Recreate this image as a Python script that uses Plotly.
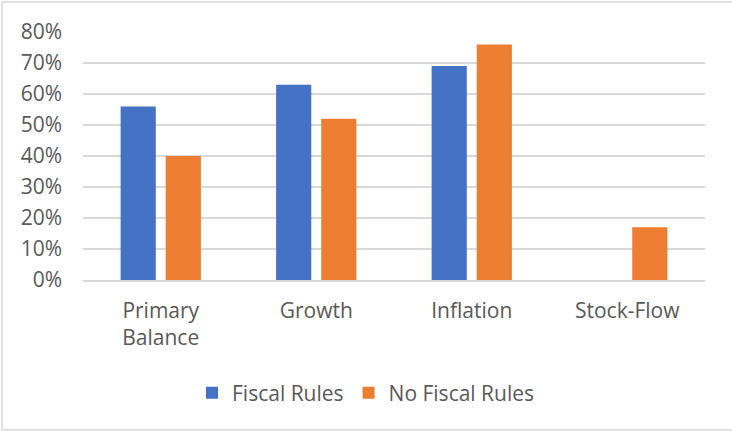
import plotly.graph_objects as go

categories = ["Primary<br>Balance", "Growth", "Inflation", "Stock-Flow"]
fiscal_rules = [0.56, 0.63, 0.69, None]
no_fiscal_rules = [0.40, 0.52, 0.76, 0.17]
y_ticks = [0, 0.1, 0.2, 0.3, 0.4, 0.5, 0.6, 0.7, 0.8]

W, H = 732, 431
ml, mr, mt, mb = 83, 27, 32, 151
pw, ph = W - ml - mr, H - mt - mb

font = dict(family="Open Sans, Noto Sans, sans-serif", size=21, color="#595959")

fig = go.Figure()
fig.add_trace(go.Bar(x=categories, y=fiscal_rules, name="Fiscal Rules",
                     marker=dict(color="#4472C4", line=dict(width=0))))
fig.add_trace(go.Bar(x=categories, y=no_fiscal_rules, name="No Fiscal Rules",
                     marker=dict(color="#ED7D31", line=dict(width=0))))

# light grey chart border (Excel style): top, left and bottom edges only
bx0, bx1 = (2 - ml) / pw, (W + 10 - ml) / pw
by0, by1 = -(H - 1 - mt - ph) / ph, 1 + (mt - 2) / ph
fig.add_shape(type="path", xref="paper", yref="paper",
              path=f"M {bx1},{by1} L {bx0},{by1} L {bx0},{by0} L {bx1},{by0}",
              line=dict(color="#D9D9D9", width=1.5), layer="below")

fig.update_layout(
    width=W, height=H,
    margin=dict(l=ml, r=mr, t=mt, b=mb),
    paper_bgcolor="white", plot_bgcolor="white",
    font=font,
    barmode="group", bargap=0.42, bargroupgap=0.22,
    showlegend=True,
    legend=dict(orientation="h", xref="container", x=0.5, xanchor="center",
                yref="container", y=0.088, yanchor="middle",
                font=font, itemwidth=30, traceorder="normal"),
)
fig.update_xaxes(showgrid=False, showline=True, linecolor="#D9D9D9", linewidth=1.5,
                 ticks="", tickfont=font, ticklabelstandoff=11)
fig.update_yaxes(range=[0, 0.8], tickvals=y_ticks, tickformat=".0%",
                 showgrid=True, gridcolor="#D9D9D9", gridwidth=1.5,
                 zeroline=False, showline=False, ticks="", tickfont=font,
                 ticklabelstandoff=20)

js = ("document.body.style.margin='0';document.body.style.overflow='hidden';"
      "document.documentElement.style.overflow='hidden';")
fig.write_html("out.html", config={"displayModeBar": False}, post_script=js)
